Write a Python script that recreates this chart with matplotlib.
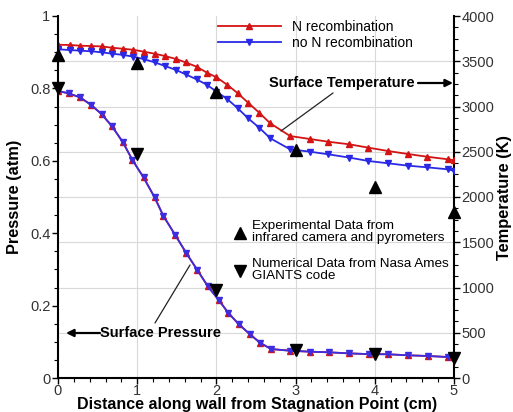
import matplotlib
matplotlib.use("Agg")
import matplotlib.pyplot as plt
from matplotlib.ticker import MultipleLocator, FuncFormatter

plt.rcParams['font.family'] = ['Liberation Sans', 'DejaVu Sans']

# ---------------- data ----------------
x_pressure = [0, 0.14, 0.28, 0.42, 0.55, 0.68, 0.82, 0.94, 1.08, 1.22, 1.33, 1.48,
              1.62, 1.76, 1.89, 2.03, 2.15, 2.28, 2.42, 2.55, 2.69, 2.93, 3.18,
              3.42, 3.67, 3.93, 4.17, 4.42, 4.67, 4.92, 5.0]
pressure = [0.793, 0.786, 0.775, 0.754, 0.729, 0.696, 0.651, 0.602, 0.554, 0.499,
            0.448, 0.395, 0.345, 0.298, 0.254, 0.215, 0.180, 0.149, 0.1215, 0.0975,
            0.080, 0.0754, 0.0727, 0.071, 0.068, 0.066, 0.0655, 0.0627, 0.0608,
            0.058, 0.057]

x_temp = [0, 0.15, 0.28, 0.42, 0.55, 0.68, 0.82, 0.95, 1.09, 1.22, 1.35, 1.49,
          1.61, 1.75, 1.88, 2.00, 2.14, 2.27, 2.40, 2.54, 2.68, 2.93, 3.18, 3.41,
          3.68, 3.92, 4.17, 4.42, 4.66, 4.92, 5.0]
temp_N_recomb = [3682, 3680, 3672, 3668, 3664, 3650, 3638, 3627, 3605, 3583, 3558,
                 3525, 3488, 3440, 3374, 3323, 3238, 3146, 3042, 2932, 2814, 2674,
                 2641, 2611, 2582, 2545, 2508, 2475, 2445, 2417, 2405]
temp_no_N_recomb = [3632, 3624, 3617, 3610, 3599, 3584, 3570, 3551, 3522, 3488,
                    3448, 3404, 3356, 3300, 3240, 3165, 3080, 2980, 2870, 2766,
                    2649, 2527, 2501, 2472, 2435, 2398, 2372, 2346, 2328, 2306, 2290]

x_exp = [0, 1, 2, 3, 4, 5]
temp_exp = [3570, 3477, 3164, 2515, 2114, 1838]

x_giants = [0, 1, 2, 3, 4, 5]
pressure_giants = [0.80, 0.619, 0.243, 0.078, 0.065, 0.055]

series_labels = ["N recombination", "no N recombination"]
exp_label = "Experimental Data from\ninfrared camera and pyrometers"
giants_label = "Numerical Data from Nasa Ames\nGIANTS code"

# ---------------- figure ----------------
W, H = 513, 412
fig = plt.figure(figsize=(W / 100, H / 100), dpi=100)
L, R, B, T = 58, 454, 378, 16
rect = [L / W, 1 - B / H, (R - L) / W, (B - T) / H]
ax2 = fig.add_axes(rect)
ax = fig.add_axes(rect, sharex=ax2)
ax.patch.set_visible(False)

ax2.yaxis.tick_right()
ax2.yaxis.set_label_position('right')
ax2.xaxis.set_visible(False)
ax.yaxis.tick_left()

red = '#d41414'
blue = '#2a2ae6'
grid_c = '#d9d9d9'

# temperature (right axis, behind)
ax2.set_ylim(0, 4000)
ax2.set_xlim(0, 5)
for xv in [1, 2, 3, 4]:
    ax2.axvline(xv, color=grid_c, lw=0.8, zorder=0)
for tv in range(500, 4000, 500):
    ax2.axhline(tv, color=grid_c, lw=0.8, zorder=0)

l1, = ax2.plot(x_temp, temp_N_recomb, color=red, lw=1.3, marker='^', ms=4,
               mec=red, mfc=red, label=series_labels[0], zorder=3)
l2, = ax2.plot(x_temp, temp_no_N_recomb, color=blue, lw=1.3, marker='v', ms=4,
               mec=blue, mfc=blue, label=series_labels[1], zorder=3)
ax2.plot(x_exp, temp_exp, linestyle='none', marker='^', ms=8, color='black',
         zorder=5, clip_on=False)

# pressure (left axis, front)
ax.set_ylim(0, 1)
ax.set_xlim(0, 5)
ax.plot(x_pressure, pressure, color=red, lw=1.3, marker='^', ms=4, mec=red,
        mfc=red, zorder=3)
ax.plot(x_pressure, pressure, color='#3c2ee0', lw=1.3, marker='v', ms=4,
        mec='#3c2ee0', mfc='#3c2ee0', zorder=3)
ax.plot(x_giants, pressure_giants, linestyle='none', marker='v', ms=8,
        color='black', zorder=5, clip_on=False)

# spines & ticks
for a in (ax, ax2):
    a.spines['top'].set_visible(False)
    for s in ('left', 'right', 'bottom'):
        a.spines[s].set_linewidth(1.5)
        a.spines[s].set_color('black')
ax.spines['right'].set_visible(False)
ax2.spines['left'].set_visible(False)
ax2.spines['bottom'].set_visible(False)

ax.xaxis.set_major_locator(MultipleLocator(1))
ax.xaxis.set_minor_locator(MultipleLocator(0.2))
ax.yaxis.set_major_locator(MultipleLocator(0.2))
ax.yaxis.set_minor_locator(MultipleLocator(0.05))
ax.yaxis.set_major_formatter(FuncFormatter(lambda v, p: f"{v:g}"))
ax.xaxis.set_major_formatter(FuncFormatter(lambda v, p: f"{v:g}"))
ax2.yaxis.set_major_locator(MultipleLocator(500))
ax2.yaxis.set_minor_locator(MultipleLocator(125))

tick_c = '#333333'
for a in (ax, ax2):
    a.tick_params(which='major', direction='out', length=4, width=1.0,
                  labelsize=10.5, labelcolor=tick_c, pad=1.5)
    a.tick_params(which='minor', direction='out', length=3, width=0.8)
ax.tick_params(axis='x', which='major', pad=0)

fig.text((73 + 442) / 2 / W, 1 - 404.5 / H,
         "Distance along wall from Stagnation Point (cm)", fontsize=11.5,
         fontweight='bold', ha='center', va='center')
fig.text(15 / W, 1 - 197 / H, "Pressure (atm)", fontsize=11.8,
         fontweight='bold', ha='center', va='center', rotation=90)
fig.text(504 / W, 1 - 197 / H, "Temperature (K)", fontsize=11.8,
         fontweight='bold', ha='center', va='center', rotation=90)

# legend
leg = ax.legend(handles=[l1, l2], loc='upper left',
                bbox_to_anchor=((218 - L) / (R - L), (B - 20) / (B - T)),
                frameon=False, fontsize=10, handlelength=4.5,
                handletextpad=0.8, labelspacing=0.12, borderpad=0,
                borderaxespad=0, numpoints=1)

def fx(px):
    return (px - L) / (R - L)

def fy(py):
    return (B - py) / (B - T)

# annotations
ax.text(fx(342), fy(83), "Surface Temperature", transform=ax.transAxes,
        ha='center', va='center', fontsize=10.5, fontweight='bold')
ax.annotate('', xy=(fx(453), fy(83)), xytext=(fx(418), fy(83)),
            xycoords='axes fraction', textcoords='axes fraction',
            arrowprops=dict(arrowstyle='-|>', color='black', lw=1.6,
                            mutation_scale=11, shrinkA=0, shrinkB=0))
ax.annotate('', xy=(fx(281), fy(131)), xytext=(fx(333), fy(93)),
            xycoords='axes fraction', textcoords='axes fraction',
            arrowprops=dict(arrowstyle='-', color='#222222', lw=0.9,
                            shrinkA=0, shrinkB=0))

ax.text(fx(161), fy(333), "Surface Pressure", transform=ax.transAxes,
        ha='center', va='center', fontsize=10.5, fontweight='bold')
ax.annotate('', xy=(fx(66), fy(333)), xytext=(fx(100), fy(333)),
            xycoords='axes fraction', textcoords='axes fraction',
            arrowprops=dict(arrowstyle='-|>', color='black', lw=1.6,
                            mutation_scale=11, shrinkA=0, shrinkB=0))
ax.annotate('', xy=(fx(190), fy(265)), xytext=(fx(155), fy(323)),
            xycoords='axes fraction', textcoords='axes fraction',
            arrowprops=dict(arrowstyle='-', color='#222222', lw=0.9,
                            shrinkA=0, shrinkB=0))

# symbol key
ax.plot([fx(240)], [fy(233)], transform=ax.transAxes, marker='^', ms=8,
        color='black', linestyle='none')
ax.text(fx(252), fy(232.5), exp_label, transform=ax.transAxes, ha='left',
        va='center', fontsize=9.7, linespacing=1.0)
ax.plot([fx(240)], [fy(271)], transform=ax.transAxes, marker='v', ms=8,
        color='black', linestyle='none')
ax.text(fx(252), fy(270), giants_label, transform=ax.transAxes, ha='left',
        va='center', fontsize=9.7, linespacing=1.0)

fig.savefig("out.png", dpi=100)
